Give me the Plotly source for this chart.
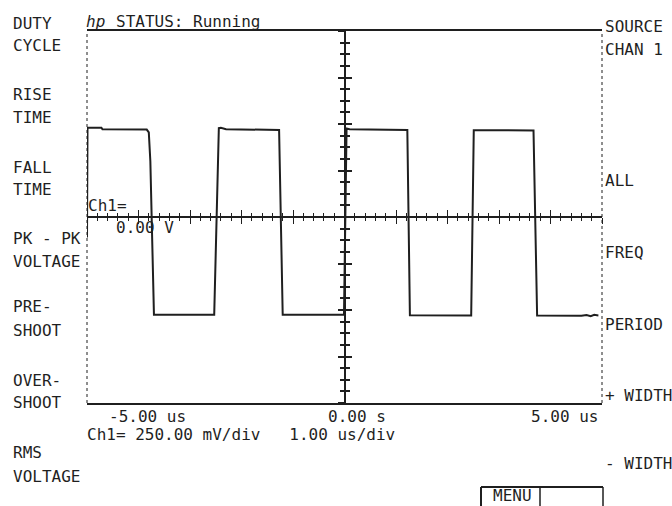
import plotly.graph_objects as go

# ---------------- data ----------------
# waveform trace (time in us, voltage in V)
wave_t = [-5.00, -4.99, -4.72, -4.70, -3.84, -3.80, -3.77, -3.70, -2.53, -2.44, -2.40, -2.30,
          -1.27, -1.20, -0.01, 0.04, 0.10, 1.22, 1.27, 2.46, 2.51, 3.67, 3.74, 4.60, 4.70,
          4.78, 4.85, 4.93]
wave_v = [-0.11, 0.480, 0.480, 0.472, 0.470, 0.455, 0.300, -0.525, -0.525, 0.478, 0.480, 0.472,
          0.468, -0.525, -0.526, 0.476, 0.472, 0.468, -0.528, -0.529, 0.467, 0.465, -0.530,
          -0.531, -0.527, -0.533, -0.526, -0.529]

left_menu = ["DUTY", "CYCLE", "RISE", "TIME", "FALL", "TIME", "PK - PK", "VOLTAGE",
             "PRE-", "SHOOT", "OVER-", "SHOOT", "RMS", "VOLTAGE"]
right_menu = ["SOURCE", "CHAN 1", "ALL", "FREQ", "PERIOD", "+ WIDTH", "- WIDTH"]
time_labels = ["-5.00 us", "0.00 s", "5.00 us"]
scale_label = "Ch1= 250.00 mV/div   1.00 us/div"
ref_labels = ["Ch1=", "0.00 V"]
status_brand = "hp"
status_text = "STATUS: Running"
menu_label = "MENU"

x_range = [-5, 5]      # us, 1 us/div
y_range = [-1, 1]      # V, 250 mV/div

# ---------------- layout constants (pixels) ----------------
W, H = 672, 506
L, T, PW, PH = 87, 31, 515, 372
R = W - L - PW
B = H - T - PH

left_menu_y = [23, 46, 94.5, 117, 167, 190, 239, 261, 306.5, 330, 380, 402, 453, 476]
right_menu_y = [26, 50, 180, 252, 324.5, 395, 463]
time_label_x = [107, 326, 529]

INK = "#1f1f1f"
FONT = "DejaVu Sans Mono"
FS = 16


def px(x):
    return (x - L) / PW


def py(y):
    return (T + PH - y) / PH


def nb(s):
    return s.replace(" ", "\u00a0")


fig = go.Figure()

fig.add_trace(go.Scatter(x=wave_t, y=wave_v, mode="lines",
                         line=dict(color=INK, width=2), hoverinfo="skip",
                         showlegend=False))

# invisible traces to instantiate overlaid graticule axes
for xa, ya in [("x2", "y"), ("x3", "y"), ("x", "y2"), ("x", "y3")]:
    fig.add_trace(go.Scatter(x=[None], y=[None], xaxis=xa, yaxis=ya,
                             mode="markers", showlegend=False, hoverinfo="skip"))

ann = []


def text(s, x, y, size=FS, anchor="left"):
    ann.append(dict(text=nb(s), x=px(x), y=py(y), xref="paper", yref="paper",
                    xanchor=anchor, yanchor="middle", showarrow=False,
                    font=dict(family=FONT, size=size, color=INK)))


for s, y in zip(left_menu, left_menu_y):
    text(s, 11, y)
for s, y in zip(right_menu, right_menu_y):
    text(s, 603, y)
for s, x in zip(time_labels, time_label_x):
    text(s, x, 416)
text(scale_label, 85, 434)
text(ref_labels[0], 86, 205)
text(ref_labels[1], 114, 227)
ann.append(dict(text="<i>" + status_brand + "</i>", x=px(84), y=py(21), xref="paper",
                yref="paper", xanchor="left", yanchor="middle", showarrow=False,
                font=dict(family=FONT, size=FS, color=INK)))
text(status_text, 114, 21)
text(menu_label, 491, 495.5)

shapes = [
    # dotted left / right borders
    dict(type="line", xref="paper", yref="paper", x0=0, x1=0, y0=0, y1=1,
         line=dict(color=INK, width=1, dash="dot")),
    dict(type="line", xref="paper", yref="paper", x0=1, x1=1, y0=0, y1=1,
         line=dict(color=INK, width=1, dash="dot")),
    # MENU box
    dict(type="line", xref="paper", yref="paper", x0=px(481), x1=px(603), y0=py(487), y1=py(487),
         line=dict(color=INK, width=2)),
    dict(type="line", xref="paper", yref="paper", x0=px(481), x1=px(481), y0=py(487), y1=py(510),
         line=dict(color=INK, width=2)),
    dict(type="line", xref="paper", yref="paper", x0=px(540), x1=px(540), y0=py(487), y1=py(510),
         line=dict(color=INK, width=1.5)),
    dict(type="line", xref="paper", yref="paper", x0=px(603), x1=px(603), y0=py(487), y1=py(510),
         line=dict(color=INK, width=1.5)),
]

hidden = dict(showgrid=False, zeroline=False, showticklabels=False)


def cross_x(tickdir):
    return dict(overlaying="x", anchor="free", position=0.5, range=x_range,
                showline=True, linecolor=INK, linewidth=2,
                ticks=tickdir, ticklen=6, tickwidth=1, tickcolor=INK, tick0=0, dtick=1,
                minor=dict(ticks=tickdir, ticklen=3, tickwidth=1, tickcolor=INK, dtick=0.2),
                **hidden)


def cross_y(tickdir):
    return dict(overlaying="y", anchor="free", position=0.5, range=y_range,
                showline=True, linecolor=INK, linewidth=2,
                ticks=tickdir, ticklen=6, tickwidth=1.5, tickcolor=INK, tick0=0, dtick=0.25,
                minor=dict(ticks=tickdir, ticklen=4, tickwidth=1.5, tickcolor=INK, dtick=0.0625),
                **hidden)


fig.update_layout(
    width=W, height=H,
    margin=dict(l=L, r=R, t=T, b=B, pad=0),
    paper_bgcolor="white", plot_bgcolor="white",
    showlegend=False,
    xaxis=dict(range=x_range, showline=True, mirror=True, linecolor=INK, linewidth=2,
               ticks="", **hidden),
    yaxis=dict(range=y_range, showline=False, ticks="", **hidden),
    xaxis2=cross_x("outside"),
    xaxis3=cross_x("inside"),
    yaxis2=cross_y("outside"),
    yaxis3=cross_y("inside"),
    annotations=ann,
    shapes=shapes,
)

fig.write_html("out.html", config={"displayModeBar": False},
               post_script="document.body.style.margin='0';document.body.style.overflow='hidden';")
